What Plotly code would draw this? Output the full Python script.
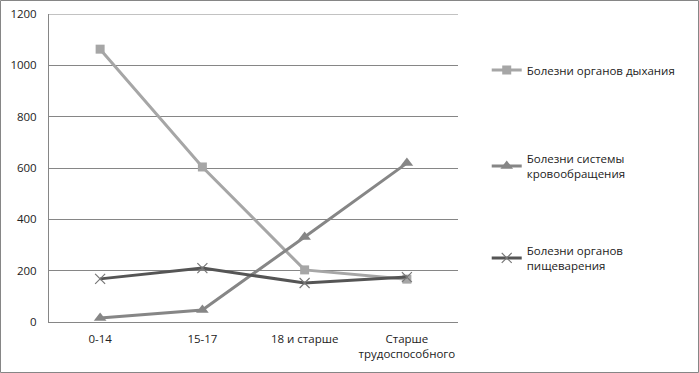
import plotly.graph_objects as go

categories = ["0-14", "15-17", "18 и старше", "Старше<br>трудоспособного"]
series_names = ["Болезни органов дыхания", "Болезни системы<br>кровообращения", "Болезни органов<br>пищеварения"]
respiratory = [1063, 604, 203, 167]
circulatory = [16, 47, 331, 619]
digestive = [168, 210, 152, 175]
y_ticks = [0, 200, 400, 600, 800, 1000, 1200]

W, H = 699, 373
ML, MR, MT, MB = 49, 241, 14, 51
pw, ph = W - ML - MR, H - MT - MB

def py(ypx):
    return (H - MB - ypx) / ph

fig = go.Figure()
fig.add_trace(go.Scatter(x=categories, y=respiratory, name=series_names[0], mode="lines+markers",
                         line=dict(color="#A6A6A6", width=3),
                         marker=dict(symbol="square", size=9, color="#A6A6A6"),
                         legend="legend"))
fig.add_trace(go.Scatter(x=categories, y=circulatory, name=series_names[1], mode="lines+markers",
                         line=dict(color="#868686", width=3),
                         marker=dict(symbol="triangle-up", size=11, color="#868686"),
                         legend="legend2"))
fig.add_trace(go.Scatter(x=categories, y=digestive, name=series_names[2], mode="lines+markers",
                         line=dict(color="#555555", width=3),
                         marker=dict(symbol="x-thin-open", size=10, color="#777777", line=dict(width=1.2, color="#777777")),
                         legend="legend3"))

lx = 1.08 - 4 / pw
leg = dict(xanchor="left", yanchor="middle", itemwidth=30, font=dict(size=11.5, color="#222222"),
           bgcolor="rgba(0,0,0,0)")

fig.update_layout(
    width=W, height=H,
    margin=dict(l=ML, r=MR, t=MT, b=MB, autoexpand=False),
    paper_bgcolor="white", plot_bgcolor="white",
    font=dict(family="Open Sans, DejaVu Sans, sans-serif", size=11, color="#222222"),
    showlegend=True,
    legend=dict(x=lx, y=py(70), **leg),
    legend2=dict(x=lx, y=py(166), **leg),
    legend3=dict(x=lx, y=py(258), **leg),
    xaxis=dict(type="category", showgrid=False, showline=True, linecolor="#868686", linewidth=1,
               ticks="", tickfont=dict(size=11.5), range=[-0.5, 3.5], fixedrange=True,
               automargin=False, ticklabelstandoff=6),
    yaxis=dict(range=[0, 1200], tickvals=y_ticks, showgrid=True, gridcolor="#868686", gridwidth=1,
               showline=True, linecolor="#868686", linewidth=1, ticks="", zeroline=False,
               tickfont=dict(size=11.5), fixedrange=True, automargin=False, ticklabelstandoff=9),
    shapes=[
        dict(type="rect", xref="paper", yref="paper",
             x0=-(ML - 0.5) / pw, x1=1 + (MR - 0.5) / pw,
             y0=-(MB - 0.5) / ph, y1=1 + (MT - 0.5) / ph,
             line=dict(color="#868686", width=1), fillcolor="rgba(0,0,0,0)", layer="below"),
        dict(type="line", xref="paper", yref="y", x0=0, x1=1, y0=y_ticks[-1], y1=y_ticks[-1],
             line=dict(color="#868686", width=1), layer="below"),
    ],
)
fig.write_html("out.html", config={"displayModeBar": False})
with open("out.html", encoding="utf-8") as f:
    html = f.read()
html = html.replace("<head>", "<head><style>html,body{margin:0;padding:0;overflow:hidden;}</style>", 1)
with open("out.html", "w", encoding="utf-8") as f:
    f.write(html)
